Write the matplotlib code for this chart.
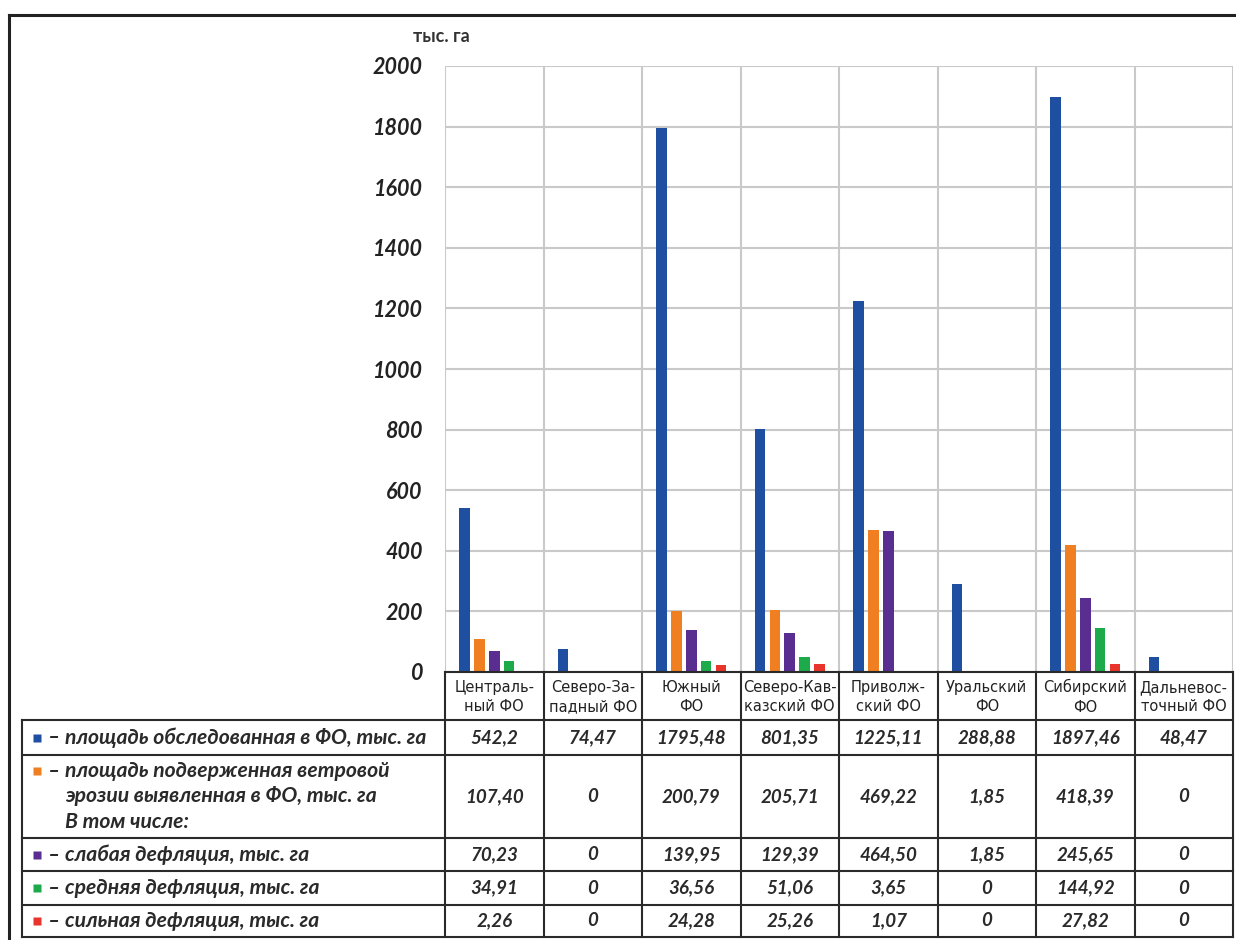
import matplotlib
matplotlib.use("Agg")
import matplotlib.pyplot as plt
import numpy as np

# ---- data ----
categories = ["Централь-\nный ФО", "Северо-За-\nпадный ФО", "Южный\nФО", "Северо-Кав-\nказский ФО",
              "Приволж-\nский ФО", "Уральский\nФО", "Сибирский\nФО", "Дальневос-\nточный ФО"]
surveyed = ["542,2", "74,47", "1795,48", "801,35", "1225,11", "288,88", "1897,46", "48,47"]
eroded = ["107,40", "0", "200,79", "205,71", "469,22", "1,85", "418,39", "0"]
weak = ["70,23", "0", "139,95", "129,39", "464,50", "1,85", "245,65", "0"]
medium = ["34,91", "0", "36,56", "51,06", "3,65", "0", "144,92", "0"]
strong = ["2,26", "0", "24,28", "25,26", "1,07", "0", "27,82", "0"]
series_labels = [
    "площадь обследованная в ФО, тыс. га",
    "площадь подверженная ветровой\nэрозии выявленная в ФО, тыс. га\nВ том числе:",
    "слабая дефляция, тыс. га",
    "средняя дефляция, тыс. га",
    "сильная дефляция, тыс. га",
]
yticks = [0, 200, 400, 600, 800, 1000, 1200, 1400, 1600, 1800, 2000]
y_unit = "тыс. га"

series = [surveyed, eroded, weak, medium, strong]
colors = ["#1f4fa0", "#f07f22", "#5a2d90", "#1daa4a", "#e8342a"]

W, H = 1236, 940
fig = plt.figure(figsize=(W / 100, H / 100), dpi=100)
fig.patch.set_facecolor("white")

FONT = ["Lato", "DejaVu Sans"]
NARROW = ["Liberation Sans Narrow", "DejaVu Sans"]
TXT = "#2a2a2a"

# chart axes (pixel layout)
ax_l, ax_r, ax_t, ax_b = 445, 1233, 66, 672
ax = fig.add_axes([ax_l / W, 1 - ax_b / H, (ax_r - ax_l) / W, (ax_b - ax_t) / H])
n = len(categories)
x = np.arange(n)
step, bw = 0.152, 0.107
for k, (vals, c) in enumerate(zip(series, colors)):
    v = [float(s.replace(",", ".")) for s in vals]
    ax.bar(x + (k - 2) * step, v, width=bw, color=c, zorder=3)
ax.set_xlim(-0.5, n - 0.5)
ax.set_ylim(0, 2000)
ax.set_yticks(yticks)
ax.set_yticklabels([str(t) for t in yticks], fontfamily=FONT, fontweight="bold",
                   fontstyle="italic", fontsize=15.5, color="#222222")
ax.set_xticks(np.arange(-0.5, n, 1.0))
ax.set_xticklabels([])
ax.tick_params(axis="both", length=0)
ax.tick_params(axis="y", pad=16)
ax.grid(True, color="#c9c9c9", linewidth=1.5, zorder=0)
for s in ax.spines.values():
    s.set_visible(False)

# overlay in pixel coords
ov = fig.add_axes([0, 0, 1, 1], zorder=5)
ov.set_xlim(0, W)
ov.set_ylim(H, 0)
ov.axis("off")
ov.patch.set_alpha(0)

# outer frame
ov.plot([9, W], [15, 15], color="#222222", lw=2.2)
ov.plot([9, 9], [15, H], color="#222222", lw=2.2)

ov.text(413, 36, y_unit, fontfamily=FONT, fontweight="bold", fontsize=13,
        color="#333333", va="center", ha="left")

# table geometry
colw = (ax_r - ax_l) / n
col_x = [ax_l + i * colw for i in range(n + 1)]
tab_left = 22
rows_y = [672, 720, 755, 838, 871, 905, 937]
lc, lw = "#2a2a2a", 1.5
ov.plot([ax_l, ax_r], [rows_y[0], rows_y[0]], color=lc, lw=lw)
for yy in rows_y[1:]:
    ov.plot([tab_left, ax_r], [yy, yy], color=lc, lw=lw)
ov.plot([tab_left, tab_left], [rows_y[1], rows_y[-1]], color=lc, lw=lw)
for xx in col_x:
    ov.plot([xx, xx], [rows_y[0], rows_y[-1]], color=lc, lw=lw)

# header
for i, cat in enumerate(categories):
    ov.text((col_x[i] + col_x[i + 1]) / 2, (rows_y[0] + rows_y[1]) / 2 + 1, cat,
            fontfamily=NARROW, fontsize=10.5, ha="center", va="center",
            color="#222222", linespacing=1.35)

# rows
lab_kw = dict(fontfamily=FONT, fontweight="bold", fontstyle="italic",
              fontsize=15.2, ha="left", va="center", color=TXT)
for r, (vals, c, lab) in enumerate(zip(series, colors, series_labels)):
    yc = (rows_y[r + 1] + rows_y[r + 2]) / 2
    lines = lab.split("\n")
    lh = 25.5
    y0 = yc - lh * (len(lines) - 1) / 2
    ov.plot([37], [y0], marker="s", ms=6, color=c, mec="none")
    ov.text(48, y0, "–", **lab_kw)
    for j, ln in enumerate(lines):
        ov.text(65, y0 + lh * j, ln, **lab_kw)
    for i, v in enumerate(vals):
        ov.text((col_x[i] + col_x[i + 1]) / 2, yc, v, fontfamily=FONT, fontweight="bold",
                fontstyle="italic", fontsize=13.5, ha="center", va="center", color=TXT)

fig.savefig("out.png", dpi=100)
